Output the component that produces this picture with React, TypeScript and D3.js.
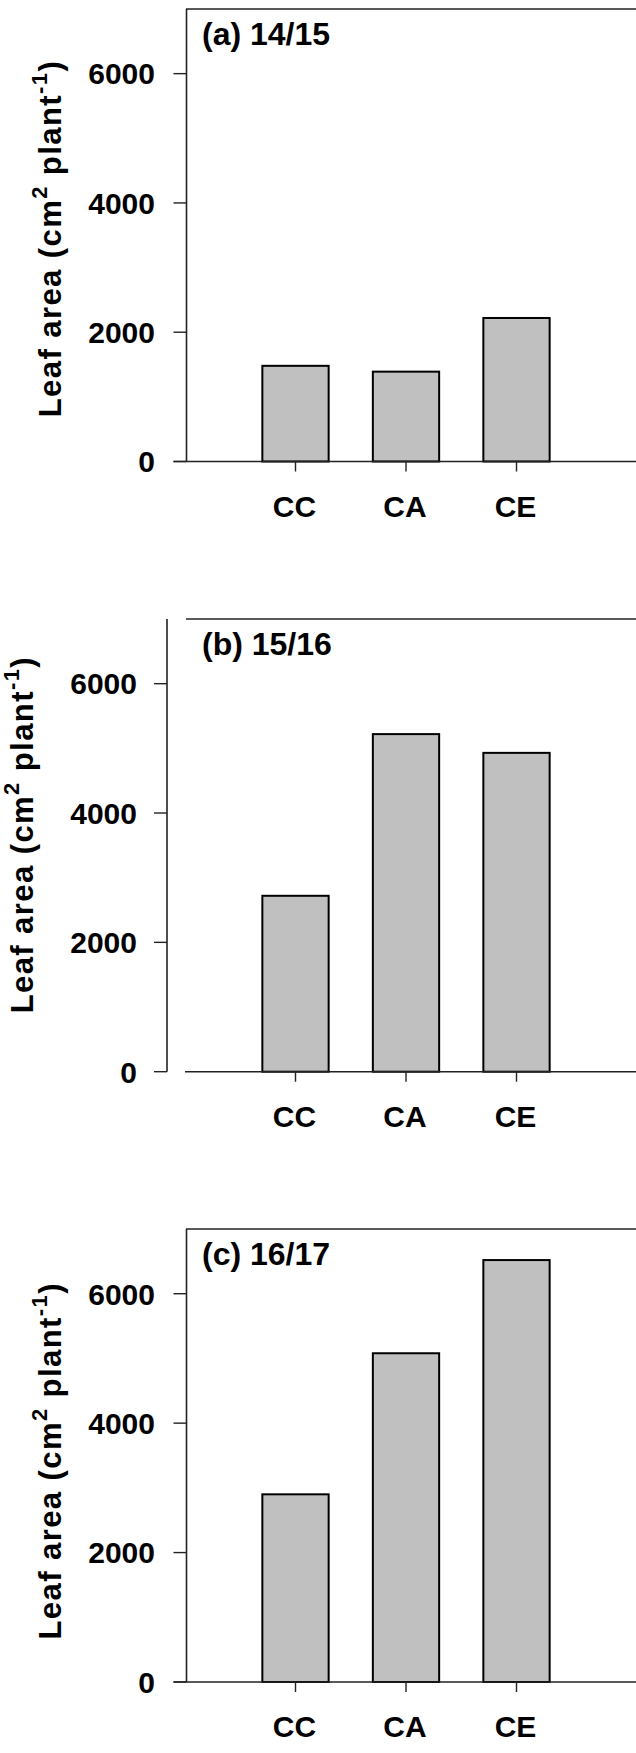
import React from "react";
import * as d3 from "d3";

// treatments on the x axis
const categories = ["CC", "CA", "CE"];

// leaf area per season (cm2 plant-1)
const leaf1415 = [1480, 1390, 2220];
const leaf1516 = [2720, 5220, 4930];
const leaf1617 = [2900, 5080, 6520];

const yTicks = [0, 2000, 4000, 6000];
const titles = ["(a) 14/15", "(b) 15/16", "(c) 16/17"];

const W = 636;
const H = 1753;
const FONT = "'Liberation Sans', Arial, sans-serif";

type PanelProps = {
  values: number[];
  title: string;
  top: number;
  bottom: number;
  yAxisX: number; // where the left axis sits
  labelX: number; // baseline of the rotated y title
  labelShift: number;
  tickLabelX: number;
};

function Panel({ values, title, top, bottom, yAxisX, labelX, labelShift, tickLabelX }: PanelProps) {
  const y = d3.scaleLinear().domain([0, 7000]).range([bottom, top]);
  const x = d3.scaleLinear().domain([0, 4]).range([185, 627]);
  const barW = (x(1) - x(0)) * 0.6;
  const detached = yAxisX < 180; // panel (b) has an offset y axis
  const axisColor = "#222";
  const xStart = detached ? x(0) : yAxisX - 13;

  return (
    <g>
      {/* bars */}
      {values.map((v, i) => (
        <rect
          key={categories[i]}
          x={x(i + 1) - barW / 2}
          y={y(v)}
          width={barW}
          height={y(0) - y(v)}
          fill="#c0c0c0"
          stroke="#000"
          strokeWidth={2}
        />
      ))}

      {/* top frame line */}
      <line x1={x(0) + 1} x2={W} y1={y(7000)} y2={y(7000)} stroke={axisColor} strokeWidth={1.6} />

      {/* y axis */}
      <line x1={yAxisX} x2={yAxisX} y1={y(7000)} y2={y(0)} stroke={axisColor} strokeWidth={1.6} />
      {yTicks.map((t) => (
        <g key={t}>
          <line x1={yAxisX - 13} x2={yAxisX} y1={y(t)} y2={y(t)} stroke={axisColor} strokeWidth={1.4} />
          <text
            x={tickLabelX}
            y={y(t)}
            dy="0.36em"
            textAnchor="end"
            fontFamily={FONT}
            fontWeight="bold"
            fontSize={30}
          >
            {t}
          </text>
        </g>
      ))}

      {/* x axis */}
      <line x1={xStart} x2={W} y1={y(0)} y2={y(0)} stroke={axisColor} strokeWidth={1.6} />
      {categories.map((c, i) => (
        <g key={c}>
          <line x1={x(i + 1)} x2={x(i + 1)} y1={y(0)} y2={y(0) + 10} stroke={axisColor} strokeWidth={1.4} />
          <text
            x={x(i + 1) - 1}
            y={y(0) + 55}
            textAnchor="middle"
            fontFamily={FONT}
            fontWeight="bold"
            fontSize={30}
          >
            {c}
          </text>
        </g>
      ))}

      {/* panel title */}
      <text x={202} y={y(7000) + 36} fontFamily={FONT} fontWeight="bold" fontSize={32}>
        {title}
      </text>

      {/* y axis title, stretched to the length it has in the original */}
      <text
        transform={`translate(${labelX},${(y(7000) + y(0)) / 2 + labelShift}) rotate(-90)`}
        textAnchor="middle"
        textLength={356}
        lengthAdjust="spacing"
        fontFamily={FONT}
        fontWeight="bold"
        fontSize={31}
      >
        Leaf area (cm
        <tspan fontSize={22} dy={-14}>2</tspan>
        <tspan dy={14}> plant</tspan>
        <tspan fontSize={22} dy={-14}>-1</tspan>
        <tspan dy={14}>)</tspan>
      </text>
    </g>
  );
}

export default function App() {
  return (
    <svg
      width={W}
      height={H}
      style={{ position: "absolute", left: 0, top: 0, background: "#fff" }}
    >
      <Panel values={leaf1415} title={titles[0]} top={9} bottom={461.5} yAxisX={186.5} labelX={61} labelShift={4} tickLabelX={155} />
      <Panel values={leaf1516} title={titles[1]} top={619} bottom={1071.7} yAxisX={167} labelX={33} labelShift={-10} tickLabelX={137} />
      <Panel values={leaf1617} title={titles[2]} top={1229} bottom={1682} yAxisX={186.5} labelX={61} labelShift={6} tickLabelX={155} />
    </svg>
  );
}
